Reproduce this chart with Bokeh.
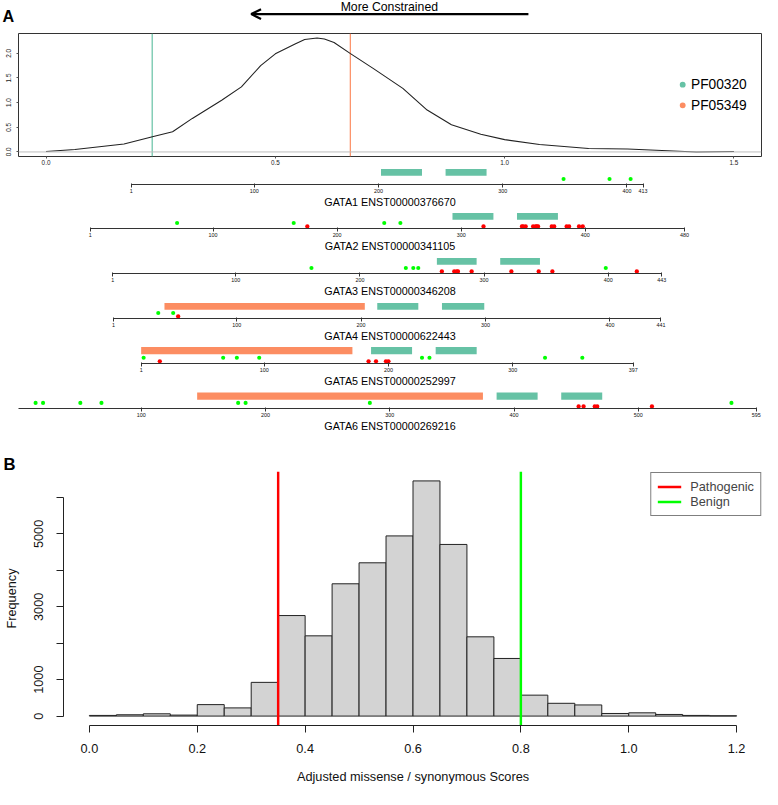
from bokeh.plotting import figure
from bokeh.layouts import column
from bokeh.models import Range1d, FixedTicker, Label, Arrow, OpenHead, Span, PrintfTickFormatter, Plot
from bokeh.core.properties import value
from bokeh.embed import file_html
from bokeh.resources import INLINE

# ---------------- data ----------------
# Panel A: density of adjusted missense/synonymous scores
DENS_X = [0.000, 0.063, 0.170, 0.232, 0.276, 0.319, 0.383, 0.426, 0.468, 0.500, 0.543,
          0.564, 0.591, 0.607, 0.628, 0.663, 0.714, 0.778, 0.831, 0.884, 0.948, 1.000,
          1.076, 1.183, 1.268, 1.343, 1.418, 1.500]
DENS_Y = [0.01, 0.05, 0.16, 0.31, 0.41, 0.68, 1.05, 1.32, 1.75, 1.99, 2.19,
          2.28, 2.31, 2.29, 2.22, 2.00, 1.69, 1.29, 0.85, 0.55, 0.36, 0.25,
          0.15, 0.07, 0.06, 0.03, 0.00, 0.01]
DENS_XTICKS = [0.0, 0.5, 1.0, 1.5]
DENS_YTICKS = [0.0, 0.5, 1.0, 1.5, 2.0]

DOMAIN_IDS = ["PF00320", "PF05349"]
DOMAIN_SCORES = [0.2315, 0.6635]

# Panel A: GATA gene tracks
GENES = ["GATA1", "GATA2", "GATA3", "GATA4", "GATA5", "GATA6"]
TRANSCRIPTS = ["ENST00000376670", "ENST00000341105", "ENST00000346208",
               "ENST00000622443", "ENST00000252997", "ENST00000269216"]
PROT_LEN = [413, 480, 443, 441, 397, 595]

PF00320_GENE = ["GATA1", "GATA1", "GATA2", "GATA2", "GATA3", "GATA3",
                "GATA4", "GATA4", "GATA5", "GATA5", "GATA6", "GATA6"]
PF00320_START = [202, 254, 293, 345, 262, 313, 213, 265, 186, 238, 386, 438]
PF00320_END = [235, 287, 326, 378, 294, 345, 246, 299, 219, 271, 419, 471]

PF05349_GENE = ["GATA4", "GATA5", "GATA6"]
PF05349_START = [42, 1, 145]
PF05349_END = [203, 171, 375]

BENIGN_GENE = (["GATA1"] * 3 + ["GATA2"] * 4 + ["GATA3"] * 5 + ["GATA4"] * 2
               + ["GATA5"] * 8 + ["GATA6"] * 8)
BENIGN_POS = [349, 386, 403,
              71, 165, 238, 251,
              161, 237, 243, 247, 398,
              37, 49,
              3, 67, 78, 96, 227, 233, 326, 356,
              15, 21, 51, 68, 178, 184, 284, 575]

PATHO_GENE = (["GATA2"] * 15 + ["GATA3"] * 9 + ["GATA4"] * 1
              + ["GATA5"] * 5 + ["GATA6"] * 5)
PATHO_POS = [176, 318, 349, 350, 352, 358, 360, 361, 362, 373, 375, 385, 387, 395, 398,
             266, 276, 278, 279, 290, 322, 344, 355, 423,
             53,
             16, 184, 190, 198, 200,
             452, 456, 465, 467, 511]

# Panel B: histogram
HIST_LEFT = [0.00, 0.05, 0.10, 0.15, 0.20, 0.25, 0.30, 0.35, 0.40, 0.45, 0.50, 0.55,
             0.60, 0.65, 0.70, 0.75, 0.80, 0.85, 0.90, 0.95, 1.00, 1.05, 1.10, 1.15]
HIST_RIGHT = [0.05, 0.10, 0.15, 0.20, 0.25, 0.30, 0.35, 0.40, 0.45, 0.50, 0.55, 0.60,
              0.65, 0.70, 0.75, 0.80, 0.85, 0.90, 0.95, 1.00, 1.05, 1.10, 1.15, 1.20]
HIST_COUNT = [18, 36, 63, 27, 315, 225, 926, 2760, 2203, 3632, 4208, 4946,
              6456, 4712, 2176, 1582, 575, 351, 306, 72, 90, 45, 18, 9]
HIST_XTICKS = [0.0, 0.2, 0.4, 0.6, 0.8, 1.0, 1.2]
HIST_YTICKS = [0, 1000, 2000, 3000, 4000, 5000, 6000]
HIST_YLABELS_HIDDEN = [2000, 4000, 6000]
THRESH_NAMES = ["Pathogenic", "Benign"]
THRESH_VALUES = [0.35, 0.80]

# ---------------- style / layout ----------------
S = 0.98
FONT = "Liberation Sans"
DOMAIN_COLORS = ["#66C2A5", "#FC8D62"]
THRESH_COLORS = ["#FF0000", "#00FF00"]
BENIGN_COLOR = "#00FF00"
PATHO_COLOR = "#FF0000"
PAGE_W = 778
A_FRAME_L, A_FRAME_R = 18, 777
A_TOP, A_BOT = 34, 159
FRAME_KW = {"frame_align": False} if "frame_align" in Plot.properties() else {}


def sp(v):
    return int(round(v * S))


def fs(v):
    return f"{v * S:.2f}px"


def make_fig(top, bottom, ftop, fbot, fl, fr, **kw):
    p = figure(width=sp(PAGE_W), height=sp(bottom) - sp(top),
               min_border_top=sp(ftop) - sp(top), min_border_bottom=sp(bottom) - sp(fbot),
               min_border_left=sp(fl), min_border_right=sp(PAGE_W) - sp(fr),
               toolbar_location=None, output_backend="svg", **FRAME_KW, **kw)
    p.xgrid.visible = False
    p.ygrid.visible = False
    p.outline_line_color = None
    p.background_fill_color = "white"
    p.border_fill_color = "white"
    return p


figs = []

# ---- density ranges (R style 4% padding) ----
dxs = max(DENS_X) - min(DENS_X)
dens_xr = Range1d(min(DENS_X) - 0.04 * dxs, max(DENS_X) + 0.04 * dxs)
dys = max(DENS_Y) - min(DENS_Y)
dens_yr = Range1d(min(DENS_Y) - 0.04 * dys, max(DENS_Y) + 0.04 * dys)
UPP = (dens_xr.end - dens_xr.start) / (A_FRAME_R - A_FRAME_L)   # data units per ref px


def a_px_to_x(px):
    return dens_xr.start + (px - A_FRAME_L) * UPP


def a_py_to_y(py):
    return dens_yr.end - (py - A_TOP) / (A_BOT - A_TOP) * (dens_yr.end - dens_yr.start)


# ---- header (full-width frame, same x scale as the density) ----
hdr_xr = Range1d(a_px_to_x(0), a_px_to_x(PAGE_W))
hdr = make_fig(0, 33, 0, 33, 0, PAGE_W, x_range=hdr_xr, y_range=Range1d(33, 0),
               x_axis_location=None, y_axis_location=None)
hdr.add_layout(Arrow(end=OpenHead(size=10 * S, line_width=2.2 * S, line_color="black"),
                     x_start=a_px_to_x(539), y_start=14, x_end=a_px_to_x(256), y_end=14,
                     line_width=2.4 * S, line_color="black"))
hdr.add_layout(Label(x=a_px_to_x(397), y=6.8, text="More Constrained", text_align="center",
                     text_baseline="middle", text_font=FONT,
                     text_font_size=fs(12.5), text_color="black"))
hdr.add_layout(Label(x=a_px_to_x(2), y=16, text="A", text_align="left",
                     text_baseline="middle", text_font=FONT, text_font_style="bold",
                     text_font_size=fs(16.5), text_color="black"))
figs.append(hdr)

# ---- density ----
dens = make_fig(33, 170, A_TOP, A_BOT, A_FRAME_L, A_FRAME_R, x_range=dens_xr, y_range=dens_yr)
dens.outline_line_color = "#333333"
dens.outline_line_width = 1
dens.add_layout(Span(location=0, dimension="width", line_color="#BEBEBE", line_width=1))
dens.segment(x0=DOMAIN_SCORES, y0=[dens_yr.start] * 2, x1=DOMAIN_SCORES, y1=[dens_yr.end] * 2,
             line_color=DOMAIN_COLORS, line_width=1.2)
dens.line(DENS_X, DENS_Y, line_color="#222222", line_width=1.1)
# legend (drawn as glyphs)
leg_y = [a_py_to_y(86), a_py_to_y(107)]
dens.scatter(x=[a_px_to_x(696.5)] * 2, y=leg_y, marker="circle", size=6 * S,
             fill_color=DOMAIN_COLORS, line_color=None)
dens.text(x=[a_px_to_x(705)] * 2, y=leg_y, text=DOMAIN_IDS, text_baseline="middle",
          text_align="left", text_font=value(FONT), text_font_size=value(fs(14)),
          text_color="black")
dens.xaxis.ticker = FixedTicker(ticks=DENS_XTICKS)
dens.yaxis.ticker = FixedTicker(ticks=DENS_YTICKS)
dens.xaxis.formatter = PrintfTickFormatter(format="%.1f")
dens.yaxis.formatter = PrintfTickFormatter(format="%.1f")
for ax in (dens.xaxis, dens.yaxis):
    ax.axis_line_color = None
    ax.major_tick_out = 2
    ax.major_tick_in = 0
    ax.minor_tick_out = 0
    ax.major_tick_line_color = "#555555"
    ax.major_label_text_font = FONT
    ax.major_label_text_font_size = fs(6.5)
    ax.major_label_text_color = "#222222"
dens.xaxis.major_label_standoff = 1
dens.yaxis.major_label_standoff = 5
dens.yaxis.major_label_orientation = "vertical"
figs.append(dens)

# ---- gene tracks ----
GENE_ROWS = [(170, 188, 215), (215, 233, 261), (261, 279, 307),
             (307, 325, 352), (352, 370, 398), (398, 416.7, 445)]
GENE_AXIS_PX = [(133.3, 656.0), (91.3, 698.3), (114.3, 675.0),
                (115.0, 674.3), (143.3, 646.0), (17.7, 771.7)]
LANE_DOMAIN = (9.2, 16.5)
LANE_BENIGN = 5.8
LANE_PATHO = 2.2

for i, g in enumerate(GENES):
    L = PROT_LEN[i]
    top, axis_y, bottom = GENE_ROWS[i]
    a1, aL = GENE_AXIS_PX[i]
    k = (aL - a1) / (L - 1)
    xr = Range1d(1 - (a1 - A_FRAME_L) / k, L + (A_FRAME_R - aL) / k)
    f = make_fig(top, bottom, top, axis_y, A_FRAME_L, A_FRAME_R, x_range=xr,
                 y_range=Range1d(0, axis_y - top), y_axis_location=None)
    for dom_gene, dom_s, dom_e, col in ((PF00320_GENE, PF00320_START, PF00320_END, DOMAIN_COLORS[0]),
                                         (PF05349_GENE, PF05349_START, PF05349_END, DOMAIN_COLORS[1])):
        st = [s for gg, s in zip(dom_gene, dom_s) if gg == g]
        en = [e for gg, e in zip(dom_gene, dom_e) if gg == g]
        if st:
            f.quad(left=st, right=en, bottom=LANE_DOMAIN[0], top=LANE_DOMAIN[1],
                   fill_color=col, line_color=None)
    bx = [p for gg, p in zip(BENIGN_GENE, BENIGN_POS) if gg == g]
    px_ = [p for gg, p in zip(PATHO_GENE, PATHO_POS) if gg == g]
    if bx:
        f.scatter(x=bx, y=[LANE_BENIGN] * len(bx), marker="circle", size=4.2 * S,
                  fill_color=BENIGN_COLOR, line_color=None)
    if px_:
        f.scatter(x=px_, y=[LANE_PATHO] * len(px_), marker="circle", size=4.4 * S,
                  fill_color=PATHO_COLOR, line_color=None)
    ax = f.xaxis[0]
    ax.ticker = FixedTicker(ticks=[1] + list(range(100, L, 100)) + [L])
    ax.bounds = (1, L)
    ax.axis_line_color = "#333333"
    ax.axis_line_width = 1.2
    ax.major_tick_line_color = "#333333"
    ax.major_tick_out = 3
    ax.major_tick_in = 1
    ax.minor_tick_out = 0
    ax.major_label_standoff = 1
    ax.major_label_text_font = FONT
    ax.major_label_text_font_size = fs(5.5)
    ax.major_label_text_color = "#111111"
    ax.axis_label = f"{g} {TRANSCRIPTS[i]}"
    ax.axis_label_standoff = 0
    ax.axis_label_text_font = FONT
    ax.axis_label_text_font_style = "normal"
    ax.axis_label_text_font_size = fs(11)
    ax.axis_label_text_color = "black"
    figs.append(f)

# ---- histogram (panel B) ----
hl, hh = min(HIST_LEFT), max(HIST_RIGHT)
hxr = Range1d(hl - 0.04 * (hh - hl), hh + 0.04 * (hh - hl))
cmax = max(HIST_COUNT)
hyr = Range1d(-0.04 * cmax, 1.04 * cmax)
H_TOP, H_BOT, H_FT, H_FB, H_FL, H_FR = 445, 805, 481, 740, 62, 778
hist = make_fig(H_TOP, H_BOT, H_FT, H_FB, H_FL, H_FR, x_range=hxr, y_range=hyr)
hist.quad(left=HIST_LEFT, right=HIST_RIGHT, bottom=0, top=HIST_COUNT,
          fill_color="#D3D3D3", line_color="#222222", line_width=1)
for name, val, col in zip(THRESH_NAMES, THRESH_VALUES, THRESH_COLORS):
    hist.segment(x0=[val], y0=[hyr.start], x1=[val], y1=[hyr.end], line_color=col,
                 line_width=2.5 * S, legend_label=name)
hist.xaxis.ticker = FixedTicker(ticks=HIST_XTICKS)
hist.xaxis.formatter = PrintfTickFormatter(format="%.1f")
hist.xaxis.bounds = (HIST_XTICKS[0], HIST_XTICKS[-1])
hist.yaxis.ticker = FixedTicker(ticks=HIST_YTICKS)
hist.yaxis.bounds = (HIST_YTICKS[0], HIST_YTICKS[-1])
hist.yaxis.major_label_overrides = {v: "" for v in HIST_YLABELS_HIDDEN}
hist.yaxis.major_label_orientation = "vertical"
for ax in (hist.xaxis, hist.yaxis):
    ax.axis_line_color = "#222222"
    ax.major_tick_line_color = "#222222"
    ax.major_tick_out = sp(7)
    ax.major_tick_in = 0
    ax.minor_tick_out = 0
    ax.major_label_text_font = FONT
    ax.major_label_text_font_size = fs(13)
    ax.major_label_text_color = "#111111"
    ax.axis_label_text_font = FONT
    ax.axis_label_text_font_style = "normal"
    ax.axis_label_text_font_size = fs(13)
    ax.axis_label_text_color = "#111111"
hist.xaxis.major_label_standoff = 11
hist.yaxis.major_label_standoff = 13
hist.xaxis.axis_label = "Adjusted missense / synonymous Scores"
hist.xaxis.axis_label_standoff = 13
hist.yaxis.axis_label = "Frequency"
hist.yaxis.axis_label_standoff = 13
hl_ = hist.legend[0]
hl_.location = "top_right"
hl_.margin = 1
hl_.padding = sp(6)
hl_.spacing = 0
hl_.glyph_width = sp(24)
hl_.glyph_height = sp(15)
hl_.label_height = sp(15)
hl_.label_standoff = sp(9)
hl_.border_line_color = "black"
hl_.border_line_width = 1
hl_.background_fill_color = "white"
hl_.background_fill_alpha = 1
hl_.label_text_font = FONT
hl_.label_text_font_size = fs(13)
hist.title.text = "B"
hist.title.align = "left"
hist.title.offset = -sp(H_FL - 1)
hist.title.standoff = -5
hist.title.text_font = FONT
hist.title.text_font_style = "bold"
hist.title.text_font_size = fs(17)
hist.title.text_color = "black"
figs.append(hist)

layout = column(*figs, spacing=0)
open("out.html", "w").write(file_html(layout, INLINE))
